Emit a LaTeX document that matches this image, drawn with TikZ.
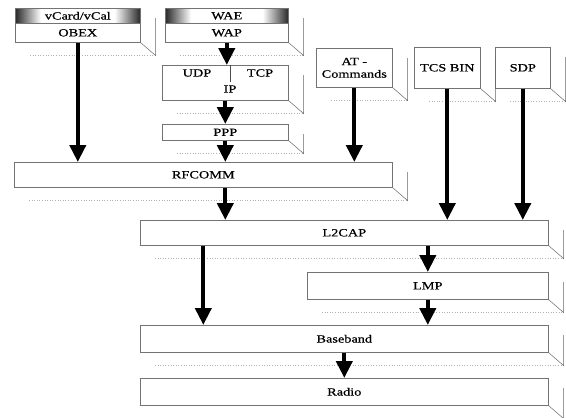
\documentclass[tikz,border=0pt]{standalone}
\usepackage{fontspec}
\setmainfont{Liberation Serif}[FakeStretch=1.3, FakeBold=0.6]
\usetikzlibrary{arrows.meta,positioning,calc}
\tikzset{
  layer/.style={draw=black!55, line width=0.6pt, anchor=north west,
    inner sep=0pt, font=\fontsize{11}{12.5}\selectfont, align=center},
  banner/.style={layer},
  stackarrow/.style={-{Triangle[width=16pt,length=17pt]}, line width=4pt, black},
  depthline/.style={draw=black!60, line width=0.5pt},
  backline/.style={draw=black!30, dotted, line width=0.6pt},
  tag/.style={font=\fontsize{11}{12.5}\selectfont, inner sep=0pt}
}
\begin{document}
\begin{tikzpicture}[x=1pt, y=-1pt]
  \useasboundingbox (0,0) rectangle (566,418);
  % upper protocols
  \node[banner, minimum width=125pt, minimum height=15pt] (vcard) at (15,8) {vCard/vCal};
  \node[layer, minimum width=125pt, minimum height=19pt] (obex) at (15,23) {OBEX};
  \node[banner, minimum width=123pt, minimum height=15pt] (wae) at (165,8) {WAE};
  \node[layer, minimum width=123pt, minimum height=19pt] (wap) at (165,23) {WAP};
  % shaded ends of the application strips
  \foreach \b in {vcard,wae}{
    \shade[left color=black!85, right color=white]
      (\b.north west) rectangle ([xshift=26pt]\b.south west);
    \shade[left color=white, right color=black!85]
      ([xshift=-26pt]\b.north east) rectangle (\b.south east);
    \draw[black!55, line width=0.6pt] (\b.north west) rectangle (\b.south east);
  }
  \node[layer, minimum width=126pt, minimum height=35pt] (ipbox) at (162,65) {};
  \node[tag] (udp) at (197,73) {UDP};
  \node[tag] (tcp) at (260,73) {TCP};
  \node[tag] (ip) at (230,89) {IP};
  \draw[black!70, line width=0.6pt] (ipbox.north -| ip) -- ++(0,17);
  \node[layer, minimum width=126pt, minimum height=16pt] (ppp) at (162,124) {PPP};
  \node[layer, minimum width=76pt, minimum height=39pt] (atcmd) at (316,48) {AT -\\Commands};
  \node[layer, minimum width=66pt, minimum height=41pt] (tcsbin) at (414,47) {TCS BIN};
  \node[layer, minimum width=55pt, minimum height=41pt] (sdp) at (495,47) {SDP};
  % core layers
  \node[layer, minimum width=378pt, minimum height=25pt] (rfcomm) at (14,162) {RFCOMM};
  \node[layer, minimum width=408pt, minimum height=25pt] (l2cap) at (140,220) {L2CAP};
  \node[layer, minimum width=241pt, minimum height=27pt] (lmp) at (307,272) {LMP};
  \node[layer, minimum width=408pt, minimum height=27pt] (baseband) at (140,325) {Baseband};
  \node[layer, minimum width=408pt, minimum height=27pt] (radio) at (140,378) {Radio};
  % box depth
  \foreach \top/\bot in {vcard/obex, wae/wap, ipbox/ipbox, ppp/ppp, atcmd/atcmd,
      tcsbin/tcsbin, sdp/sdp, rfcomm/rfcomm, l2cap/l2cap, lmp/lmp,
      baseband/baseband, radio/radio}{
    \draw[backline] ($(\bot.south west)+(15,13)$) -- ($(\bot.south east)+(15,13)$);
    \draw[depthline] (\bot.south east) -- ++(15,13) -- ($(\top.north east)+(15,10)$);
  }
  % data flow
  \draw[stackarrow] (obex.south) -- (obex.south |- rfcomm.north);
  \draw[stackarrow] (wap.south) -- (wap.south |- ipbox.north);
  \draw[stackarrow] (ipbox.south) -- (ppp.north);
  \draw[stackarrow] (ppp.south) -- (ppp.south |- rfcomm.north);
  \draw[stackarrow] (atcmd.south) -- (atcmd.south |- rfcomm.north);
  \draw[stackarrow] (tcsbin.south) -- (tcsbin.south |- l2cap.north);
  \draw[stackarrow] (sdp.south) -- (sdp.south |- l2cap.north);
  \draw[stackarrow] (ppp.south |- rfcomm.south) -- (ppp.south |- l2cap.north);
  \draw[stackarrow] (lmp.north |- l2cap.south) -- (lmp.north);
  \draw[stackarrow] (rfcomm.south |- l2cap.south) -- (rfcomm.south |- baseband.north);
  \draw[stackarrow] (lmp.south) -- (lmp.south |- baseband.north);
  \draw[stackarrow] (baseband.south) -- (radio.north);
\end{tikzpicture}
\end{document}
